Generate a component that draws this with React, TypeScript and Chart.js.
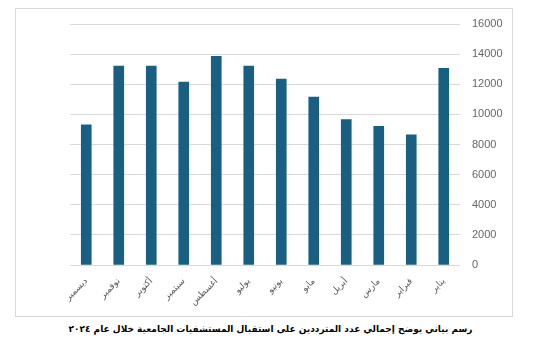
import React, { useEffect, useRef } from "react";
import { Chart, registerables } from "chart.js";

Chart.register(...registerables);

const months = ["يناير", "فبراير", "مارس", "أبريل", "مايو", "يونيو", "يوليو", "أغسطس", "سبتمبر", "أكتوبر", "نوفمبر", "ديسمبر"];
const visitors = [13050, 8650, 9200, 9650, 11150, 12350, 13200, 13850, 12150, 13200, 13200, 9300];
const yTicks = { min: 0, max: 16000, step: 2000 };
const caption = "رسم بياني يوضح إجمالي عدد المترددين على استقبال المستشفيات الجامعية خلال عام ٢٠٢٤";

export default function App() {
  const ref = useRef<HTMLCanvasElement | null>(null);
  useEffect(() => {
    if (!ref.current) return;
    const chart = new Chart(ref.current, {
      type: "bar",
      data: {
        labels: months,
        datasets: [
          {
            data: visitors,
            backgroundColor: "#185f82",
            barThickness: 10,
          },
        ],
      },
      options: {
        animation: false,
        responsive: false,
        maintainAspectRatio: false,
        layout: { padding: { left: 54, top: 15, right: 0, bottom: 0 } },
        plugins: { legend: { display: false }, tooltip: { enabled: false } },
        scales: {
          x: {
            reverse: true,
            grid: { display: false },
            border: { display: false },
            ticks: {
              minRotation: 45,
              maxRotation: 45,
              color: "#595959",
              font: { family: "'DejaVu Sans', sans-serif", size: 9 },
              padding: 3,
            },
            afterFit: (s: any) => {
              s.height = 51;
              s.paddingTop = 0;
              s.paddingBottom = 0;
            },
          },
          y: {
            position: "right",
            min: yTicks.min,
            max: yTicks.max,
            grid: { color: "#d9d9d9", drawTicks: false },
            border: { display: false },
            ticks: {
              stepSize: yTicks.step,
              color: "#666666",
              padding: 12,
              font: { family: "'Liberation Sans', Arial, sans-serif", size: 11 },
              callback: (v: any) => String(v),
            },
            afterFit: (s: any) => {
              s.width = 52;
              s.paddingTop = 0;
              s.paddingBottom = 0;
            },
          },
        },
      },
    });
    return () => chart.destroy();
  }, []);

  return (
    <div style={{ position: "relative", width: 525, height: 340 }}>
      <div
        style={{
          position: "absolute",
          left: 7,
          top: 0,
          width: 496,
          height: 307,
          border: "1px solid #d9d9d9",
        }}
      >
        <canvas ref={ref} width={496} height={307} style={{ display: "block" }} />
      </div>
      <div
        style={{
          position: "absolute",
          left: -8,
          width: 541,
          top: 316,
          textAlign: "center",
          fontFamily: "'DejaVu Sans', sans-serif",
          fontWeight: "bold",
          fontSize: 9,
          color: "#000",
          direction: "rtl",
        }}
      >
        {caption}
      </div>
    </div>
  );
}
